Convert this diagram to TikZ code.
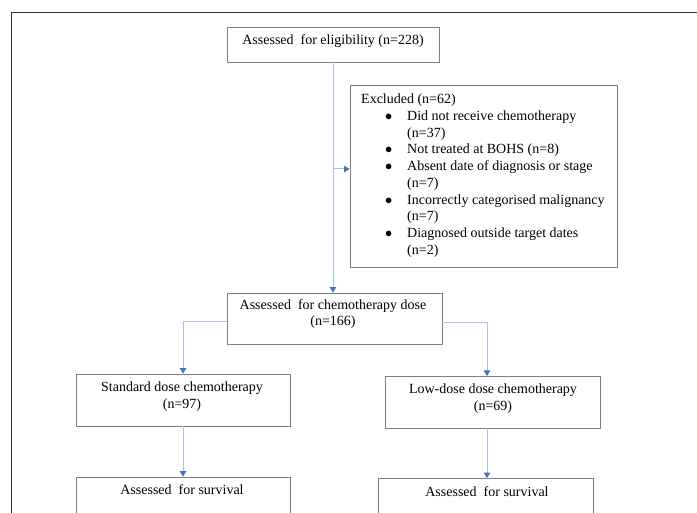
\documentclass[tikz,border=0pt]{standalone}
\usepackage{fontspec}
\setmainfont{Liberation Serif}
\usetikzlibrary{arrows.meta}
\definecolor{linkblue}{HTML}{A9C0E8}
\definecolor{tipblue}{HTML}{4472C4}
\definecolor{boxgray}{HTML}{808080}
\definecolor{framecol}{HTML}{333333}
\newcommand{\blt}{$\bullet$}
\begin{document}
\begin{tikzpicture}[x=1pt,y=-1pt,
  box/.style={draw=boxgray, line width=0.7pt, inner sep=0pt},
  txt/.style={inner sep=0pt, align=center, font=\fontsize{14}{16.7}\selectfont},
  conn/.style={draw=linkblue, line width=1pt, -{Triangle[color=tipblue,width=6.5pt,length=5.5pt]}}]
\useasboundingbox (0,0) rectangle (697,513);
\clip (0,0) rectangle (697,513);
% frame
\draw[framecol, line width=0.8pt] (11.5,520) -- (11.5,12) -- (700,12);
% boxes
\node[box, minimum width=212pt, minimum height=35pt] (elig) at (333,44.5) {};
\node[box, minimum width=267pt, minimum height=182pt] (excl) at (483.5,176) {};
\node[box, minimum width=215pt, minimum height=51pt] (chemo) at (334.5,318.5) {};
\node[box, minimum width=214pt, minimum height=52pt] (std) at (183,400) {};
\node[box, minimum width=215pt, minimum height=52pt] (low) at (492.5,402) {};
\node[box, minimum width=214pt, minimum height=63pt] (surv1) at (183,508.5) {};
\node[box, minimum width=215pt, minimum height=62pt] (surv2) at (485.5,509) {};
% texts
\node[txt] (eligt) at (333,41) {Assessed\ \ for eligibility (n=228)};
\node[txt, anchor=north west, align=left] (exclt) at (361,92) {%
\begin{tabular}{@{}p{24pt}@{}p{22pt}@{}l@{}}
\multicolumn{3}{@{}l@{}}{Excluded (n=62)}\\
& \blt & Did not receive chemotherapy\\
& & (n=37)\\
& \blt & Not treated at BOHS (n=8)\\
& \blt & Absent date of diagnosis or stage\\
& & (n=7)\\
& \blt & Incorrectly categorised malignancy\\
& & (n=7)\\
& \blt & Diagnosed outside target dates\\
& & (n=2)
\end{tabular}};
\node[txt] (chemot) at (333,314) {Assessed\ \ for chemotherapy dose\\(n=166)};
\node[txt] (stdt) at (182,396.5) {Standard dose chemotherapy\\(n=97)};
\node[txt] (lowt) at (493,398.5) {Low-dose dose chemotherapy\\(n=69)};
\node[txt] (surv1t) at (182,490) {Assessed\ \ for survival};
\node[txt] (surv2t) at (487,492) {Assessed\ \ for survival};
% connectors
\coordinate (br) at (333,169);
\coordinate (lowin) at (487,376);
\coordinate (lowout) at (487,428);
\coordinate (surv2in) at (487,478);
\draw[conn] (elig.south) -- (elig.south |- chemo.north);
\draw[conn] (br) -- (excl.west |- br);
\draw[conn] ([yshift=-3.5pt]chemo.west) -| (std.north);
\draw[conn] ([yshift=-4pt]chemo.east) -| (lowin);
\draw[conn] (std.south) -- (surv1.north);
\draw[conn] (lowout) -- (surv2in);
\end{tikzpicture}
\end{document}
